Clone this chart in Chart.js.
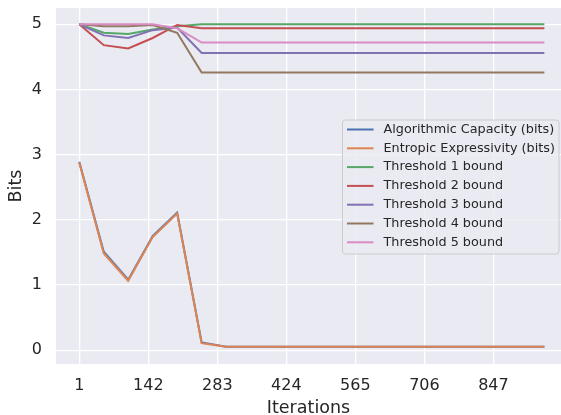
<!DOCTYPE html>
<html>
<head>
<meta charset="utf-8">
<script src="https://cdn.jsdelivr.net/npm/chart.js@4"></script>
<style>
  body { margin: 0; background: #fff; }
  #chart { display: block; }
</style>
</head>
<body>
<canvas id="chart" width="561" height="415"></canvas>
<script>
// iterations sampled every 50 steps
const iterations = [1, 51, 101, 151, 201, 251, 301, 351, 401, 451, 501, 551, 601, 651, 701, 751, 801, 851, 901, 951];
const xTickValues = [1, 142, 283, 424, 565, 706, 847];
const yTickValues = [0, 1, 2, 3, 4, 5];

const algorithmicCapacity = [2.89, 1.51, 1.08, 1.75, 2.11, 0.12, 0.055, 0.055, 0.055, 0.055, 0.055, 0.055, 0.055, 0.055, 0.055, 0.055, 0.055, 0.055, 0.055, 0.055];
const entropicExpressivity = [2.88, 1.49, 1.07, 1.74, 2.10, 0.11, 0.055, 0.055, 0.055, 0.055, 0.055, 0.055, 0.055, 0.055, 0.055, 0.055, 0.055, 0.055, 0.055, 0.055];
const spread = [0.01, 0.04, 0.04, 0.03, 0.03, 0.01, 0.005, 0.005, 0.005, 0.005, 0.005, 0.005, 0.005, 0.005, 0.005, 0.005, 0.005, 0.005, 0.005, 0.005];

const threshold1 = [5.0, 4.87, 4.85, 4.92, 4.97, 5.0, 5.0, 5.0, 5.0, 5.0, 5.0, 5.0, 5.0, 5.0, 5.0, 5.0, 5.0, 5.0, 5.0, 5.0];
const threshold2 = [5.0, 4.68, 4.63, 4.79, 4.99, 4.94, 4.94, 4.94, 4.94, 4.94, 4.94, 4.94, 4.94, 4.94, 4.94, 4.94, 4.94, 4.94, 4.94, 4.94];
const threshold3 = [5.0, 4.83, 4.79, 4.91, 4.95, 4.56, 4.56, 4.56, 4.56, 4.56, 4.56, 4.56, 4.56, 4.56, 4.56, 4.56, 4.56, 4.56, 4.56, 4.56];
const threshold4 = [5.0, 4.97, 4.97, 4.99, 4.87, 4.26, 4.26, 4.26, 4.26, 4.26, 4.26, 4.26, 4.26, 4.26, 4.26, 4.26, 4.26, 4.26, 4.26, 4.26];
const threshold5 = [5.0, 5.0, 5.0, 5.0, 4.94, 4.72, 4.72, 4.72, 4.72, 4.72, 4.72, 4.72, 4.72, 4.72, 4.72, 4.72, 4.72, 4.72, 4.72, 4.72];

const seriesNames = ['Algorithmic Capacity (bits)', 'Entropic Expressivity (bits)', 'Threshold 1 bound', 'Threshold 2 bound', 'Threshold 3 bound', 'Threshold 4 bound', 'Threshold 5 bound'];
const seriesValues = [algorithmicCapacity, entropicExpressivity, threshold1, threshold2, threshold3, threshold4, threshold5];
const colors = ['#4C72B0', '#DD8452', '#55A868', '#C44E52', '#8172B3', '#937860', '#DA8BC3'];

const pts = arr => arr.map((v, i) => ({ x: iterations[i], y: v }));

const lineSets = seriesNames.map((name, i) => ({
    label: name,
    data: pts(seriesValues[i]),
    borderColor: colors[i],
    borderWidth: 2,
    pointRadius: 0,
    fill: false,
    tension: 0,
    order: 20 - i
}));

// shaded spread around the two bits curves
function band(values, color) {
    return [
        { label: '_band', data: pts(values.map((v, i) => v + spread[i])), borderWidth: 0, pointRadius: 0, fill: '+1', backgroundColor: color, order: 30 },
        { label: '_band', data: pts(values.map((v, i) => v - spread[i])), borderWidth: 0, pointRadius: 0, fill: false, order: 30 }
    ];
}

const bgPlugin = {
    id: 'bg',
    beforeDraw(chart) {
        const { ctx, chartArea: a } = chart;
        ctx.save();
        ctx.fillStyle = '#EAEAF2';
        ctx.fillRect(a.left, a.top, a.right - a.left, a.bottom - a.top);
        ctx.restore();
    }
};

const legendPlugin = {
    id: 'boxLegend',
    afterDatasetsDraw(chart) {
        const ctx = chart.ctx;
        const items = chart.data.datasets.filter(d => d.label !== '_band');
        const x0 = 342.5, y0 = 120, w = 216.5, h = 134;
        ctx.save();
        ctx.beginPath();
        ctx.roundRect(x0, y0, w, h, 3);
        ctx.fillStyle = 'rgba(234,234,242,0.8)';
        ctx.fill();
        ctx.strokeStyle = '#cccccc';
        ctx.lineWidth = 1;
        ctx.stroke();
        ctx.font = '12.8px "DejaVu Sans"';
        ctx.textBaseline = 'middle';
        ctx.fillStyle = '#262626';
        items.forEach((d, i) => {
            const y = 129.5 + i * 18.8;
            ctx.beginPath();
            ctx.moveTo(347, y);
            ctx.lineTo(373.5, y);
            ctx.strokeStyle = d.borderColor;
            ctx.lineWidth = 2;
            ctx.stroke();
            ctx.fillText(d.label, 383.5, y);
        });
        ctx.restore();
    }
};

new Chart(document.getElementById('chart'), {
    type: 'line',
    data: {
        datasets: [...lineSets, ...band(algorithmicCapacity, 'rgba(76,114,176,0.2)'), ...band(entropicExpressivity, 'rgba(221,132,82,0.2)')]
    },
    options: {
        responsive: false,
        devicePixelRatio: 1,
        animation: false,
        layout: { padding: { top: 8, right: 0, left: 0, bottom: 0 } },
        plugins: { legend: { display: false }, tooltip: { enabled: false } },
        scales: {
            x: {
                type: 'linear',
                min: -46.5,
                max: 985,
                afterBuildTicks: s => { s.ticks = xTickValues.map(v => ({ value: v })); },
                afterFit: s => { s.height = 51; s.paddingLeft = 0; s.paddingRight = 0; },
                grid: { color: '#ffffff', lineWidth: 1.3, drawTicks: false },
                border: { display: false },
                ticks: { autoSkip: false, maxRotation: 0, padding: 12, color: '#262626', font: { family: 'DejaVu Sans', size: 16 }, callback: v => String(v) },
                title: { display: true, text: 'Iterations', color: '#262626', font: { family: 'DejaVu Sans', size: 17.5, lineHeight: 0.8 }, padding: { top: 0, bottom: 0 } }
            },
            y: {
                min: -0.21,
                max: 5.25,
                afterBuildTicks: s => { s.ticks = yTickValues.map(v => ({ value: v })); },
                afterFit: s => { s.width = 56; s.paddingTop = 0; s.paddingBottom = 0; },
                grid: { color: '#ffffff', lineWidth: 1.3, drawTicks: false },
                border: { display: false },
                ticks: { padding: 14, color: '#262626', font: { family: 'DejaVu Sans', size: 16 }, callback: v => String(v) },
                title: { display: true, text: 'Bits', color: '#262626', font: { family: 'DejaVu Sans', size: 17.5, lineHeight: 0.8 }, padding: { top: 9, bottom: 0 } }
            }
        }
    },
    plugins: [bgPlugin, legendPlugin]
});
</script>
</body>
</html>
